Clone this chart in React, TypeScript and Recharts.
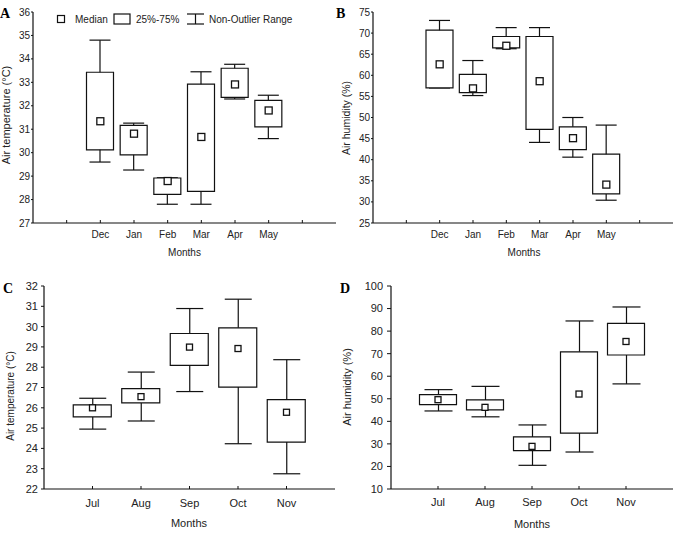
import { ComposedChart, Bar, Scatter, XAxis, YAxis } from 'recharts';

const MONTHS_DRY = ['Dec', 'Jan', 'Feb', 'Mar', 'Apr', 'May'];
const MONTHS_WET = ['Jul', 'Aug', 'Sep', 'Oct', 'Nov'];

// A: air temperature (°C), Dec–May
const A_LOW = [29.6, 29.26, 27.8, 27.8, 32.29, 30.6];
const A_Q1 = [30.12, 29.91, 28.22, 28.35, 32.36, 31.1];
const A_MED = [31.34, 30.81, 28.79, 30.67, 32.91, 31.8];
const A_Q3 = [33.43, 31.16, 28.92, 32.92, 33.6, 32.23];
const A_HIGH = [34.8, 31.26, 28.93, 33.45, 33.77, 32.45];

// B: air humidity (%), Dec–May
const B_LOW = [57.0, 55.2, 66.3, 44.1, 40.6, 30.4];
const B_Q1 = [57.0, 55.9, 66.5, 47.2, 42.4, 31.9];
const B_MED = [62.6, 56.9, 67.0, 58.6, 45.1, 34.1];
const B_Q3 = [70.7, 60.2, 69.2, 69.2, 47.8, 41.3];
const B_HIGH = [73.0, 63.5, 71.3, 71.3, 50.0, 48.2];

// C: air temperature (°C), Jul–Nov
const C_LOW = [24.95, 25.35, 26.8, 24.23, 22.75];
const C_Q1 = [25.55, 26.24, 28.09, 27.02, 24.31];
const C_MED = [26.0, 26.55, 28.99, 28.92, 25.78];
const C_Q3 = [26.14, 26.94, 29.66, 29.94, 26.4];
const C_HIGH = [26.47, 27.76, 30.89, 31.35, 28.37];

// D: air humidity (%), Jul–Nov
const D_LOW = [44.6, 42.0, 20.5, 26.4, 56.6];
const D_Q1 = [47.4, 45.1, 27.0, 34.8, 69.4];
const D_MED = [49.6, 46.2, 28.9, 52.1, 75.4];
const D_Q3 = [51.8, 49.5, 33.1, 70.8, 83.4];
const D_HIGH = [54.05, 55.5, 38.4, 84.5, 90.7];

const Y_TICKS_A = [27, 28, 29, 30, 31, 32, 33, 34, 35, 36];
const Y_TICKS_B = [25, 30, 35, 40, 45, 50, 55, 60, 65, 70, 75];
const Y_TICKS_C = [22, 23, 24, 25, 26, 27, 28, 29, 30, 31, 32];
const Y_TICKS_D = [10, 20, 30, 40, 50, 60, 70, 80, 90, 100];

const FONT = '"Liberation Sans", Arial, Helvetica, sans-serif';
const SERIF = '"Liberation Serif", "Times New Roman", serif';
const INK = '#111';
const TXT = '#222';

type Row = { x: number; label: string; range: number[]; box: number[]; med: number };

function buildRows(months: string[], low: number[], q1: number[], med: number[], q3: number[], high: number[], start: number): Row[] {
  return months.map((m, i) => ({
    x: i + start,
    label: m,
    range: [low[i], high[i]],
    box: [q1[i], q3[i]],
    med: med[i],
  }));
}

const rowsA = buildRows(MONTHS_DRY, A_LOW, A_Q1, A_MED, A_Q3, A_HIGH, 2);
const rowsB = buildRows(MONTHS_DRY, B_LOW, B_Q1, B_MED, B_Q3, B_HIGH, 2);
const rowsC = buildRows(MONTHS_WET, C_LOW, C_Q1, C_MED, C_Q3, C_HIGH, 1);
const rowsD = buildRows(MONTHS_WET, D_LOW, D_Q1, D_MED, D_Q3, D_HIGH, 1);

function Whisker(props: any) {
  const { x, y, width, height } = props;
  if (x == null || y == null) return null;
  const top = Math.min(y, y + height);
  const bot = Math.max(y, y + height);
  const cx = x + width / 2;
  return (
    <g stroke={INK} strokeWidth={1.2}>
      <line x1={cx} x2={cx} y1={top} y2={bot} />
      <line x1={x} x2={x + width} y1={top} y2={top} />
      <line x1={x} x2={x + width} y1={bot} y2={bot} />
    </g>
  );
}

const medianShape = (size: number) => (props: any) => (
  <rect
    x={props.cx - size / 2}
    y={props.cy - size / 2}
    width={size}
    height={size}
    fill="#fff"
    stroke={INK}
    strokeWidth={1.3}
  />
);

interface PanelProps {
  rows: Row[];
  left: number;
  top: number;
  width: number;
  height: number;
  margin: { top: number; right: number; left: number; bottom: number };
  yWidth: number;
  xHeight: number;
  xDomain: [number, number];
  xTicks: number[];
  yDomain: [number, number];
  yTicks: number[];
  fontSize: number;
  yTickSize: number;
  yTickMargin: number;
  xTickSize: number;
  xTickMargin: number;
  boxW: number;
  capW: number;
  medSize: number;
}

function BoxPanel(p: PanelProps) {
  const fmt = (v: number) => p.rows.find((r) => r.x === v)?.label ?? '';
  const tick = { fontSize: p.fontSize, fill: TXT, fontFamily: FONT };
  return (
    <div style={{ position: 'absolute', left: p.left, top: p.top }}>
      <ComposedChart width={p.width} height={p.height} data={p.rows} margin={p.margin}>
        <XAxis
          xAxisId="m"
          type="number"
          dataKey="x"
          domain={p.xDomain}
          ticks={p.xTicks}
          interval={0}
          tickFormatter={fmt}
          height={p.xHeight}
          tick={tick}
          tickSize={p.xTickSize}
          tickMargin={p.xTickMargin}
          axisLine={{ stroke: INK, strokeWidth: 1.2 }}
          tickLine={{ stroke: INK }}
        />
        <XAxis xAxisId="w" type="number" dataKey="x" domain={p.xDomain} ticks={p.xTicks} hide height={0} />
        <YAxis
          type="number"
          domain={p.yDomain}
          ticks={p.yTicks}
          interval={0}
          width={p.yWidth}
          tick={tick}
          tickSize={p.yTickSize}
          tickMargin={p.yTickMargin}
          axisLine={{ stroke: INK, strokeWidth: 1.2 }}
          tickLine={{ stroke: INK }}
        />
        <Bar xAxisId="w" dataKey="range" barSize={p.capW} shape={Whisker} isAnimationActive={false} />
        <Bar xAxisId="m" dataKey="box" barSize={p.boxW} fill="#fff" stroke={INK} strokeWidth={1.2} isAnimationActive={false} />
        <Scatter xAxisId="m" dataKey="med" shape={medianShape(p.medSize)} isAnimationActive={false} />
      </ComposedChart>
    </div>
  );
}

function Overlay() {
  const t = { fontFamily: FONT, fill: TXT };
  const letter = { fontFamily: SERIF, fontWeight: 700, fontSize: 14, fill: '#000' };
  return (
    <svg width={676} height={537} style={{ position: 'absolute', left: 0, top: 0, pointerEvents: 'none' }}>
      <text x={0} y={18} {...letter}>A</text>
      <text x={336} y={18} {...letter}>B</text>
      <text x={3} y={293} {...letter}>C</text>
      <text x={340} y={293} {...letter}>D</text>

      <text {...t} fontSize={11} textAnchor="middle" transform="translate(10,115) rotate(-90)">Air temperature (°C)</text>
      <text {...t} fontSize={10} textAnchor="middle" x={184.5} y={256}>Months</text>
      <text {...t} fontSize={10.5} textAnchor="middle" transform="translate(350,118) rotate(-90)">Air humidity (%)</text>
      <text {...t} fontSize={10} textAnchor="middle" x={524} y={256}>Months</text>
      <text {...t} fontSize={10} textAnchor="middle" transform="translate(14,396) rotate(-90)">Air temperature (°C)</text>
      <text {...t} fontSize={11} textAnchor="middle" x={189} y={527}>Months</text>
      <text {...t} fontSize={11} textAnchor="middle" transform="translate(351,387) rotate(-90)">Air humidity (%)</text>
      <text {...t} fontSize={11} textAnchor="middle" x={532} y={528}>Months</text>

      <g stroke={INK} strokeWidth={1.2} fill="#fff">
        <rect x={57.5} y={15.5} width={7} height={7} />
        <rect x={114} y={14} width={16} height={10} />
        <line x1={187} x2={204} y1={14} y2={14} />
        <line x1={187} x2={204} y1={24} y2={24} />
        <line x1={195.5} x2={195.5} y1={14} y2={24} />
      </g>
      <text {...t} fontSize={10} x={75} y={22.5}>Median</text>
      <text {...t} fontSize={10} x={136} y={22.5}>25%-75%</text>
      <text {...t} fontSize={10} x={209} y={22.5}>Non-Outlier Range</text>
    </svg>
  );
}

export default function App() {
  return (
    <div style={{ position: 'absolute', left: 0, top: 0, width: 676, height: 537, background: '#fff', fontFamily: FONT }}>
      <BoxPanel
        rows={rowsA} left={0} top={0} width={340} height={270}
        margin={{ top: 12, right: 4, left: 0, bottom: 0 }} yWidth={33} xHeight={47}
        xDomain={[0, 9]} xTicks={[1, 2, 3, 4, 5, 6, 7, 8]} yDomain={[27, 36]} yTicks={Y_TICKS_A}
        fontSize={10} yTickSize={2} yTickMargin={1} xTickSize={-3} xTickMargin={10.5}
        boxW={27} capW={21} medSize={7}
      />
      <BoxPanel
        rows={rowsB} left={340} top={0} width={336} height={270}
        margin={{ top: 12, right: 3, left: 0, bottom: 0 }} yWidth={33} xHeight={47}
        xDomain={[0, 9]} xTicks={[1, 2, 3, 4, 5, 6, 7, 8]} yDomain={[25, 75]} yTicks={Y_TICKS_B}
        fontSize={10} yTickSize={2} yTickMargin={1} xTickSize={-3} xTickMargin={10.5}
        boxW={27} capW={21} medSize={7}
      />
      <BoxPanel
        rows={rowsC} left={0} top={270} width={340} height={267}
        margin={{ top: 16, right: 5, left: 0, bottom: 0 }} yWidth={44} xHeight={48}
        xDomain={[0, 6]} xTicks={[1, 2, 3, 4, 5]} yDomain={[22, 32]} yTicks={Y_TICKS_C}
        fontSize={11} yTickSize={3} yTickMargin={3} xTickSize={-3} xTickMargin={13}
        boxW={38} capW={27} medSize={6}
      />
      <BoxPanel
        rows={rowsD} left={340} top={270} width={336} height={267}
        margin={{ top: 16, right: 3, left: 0, bottom: 0 }} yWidth={51} xHeight={48}
        xDomain={[0, 6]} xTicks={[1, 2, 3, 4, 5]} yDomain={[10, 100]} yTicks={Y_TICKS_D}
        fontSize={11} yTickSize={4} yTickMargin={4} xTickSize={-3} xTickMargin={12}
        boxW={37} capW={28} medSize={6}
      />
      <Overlay />
    </div>
  );
}
